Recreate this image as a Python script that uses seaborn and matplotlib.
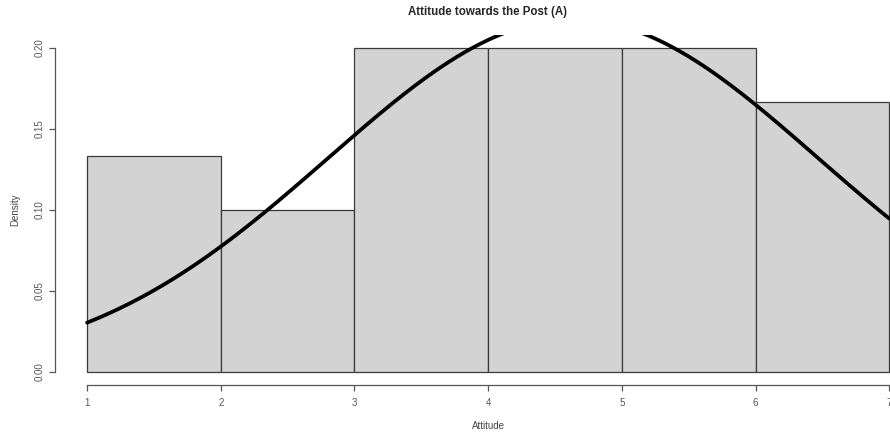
import numpy as np
import pandas as pd
import matplotlib
matplotlib.use("Agg")
import matplotlib.pyplot as plt
import seaborn as sns

# Histogram of attitude scores (bins of width 1 from 1 to 7)
bin_edges = [1, 2, 3, 4, 5, 6, 7]
bin_counts = [4, 3, 6, 6, 6, 5]
# Fitted normal curve parameters
curve_mean = 4.635
curve_sd = 1.833

title = "Attitude towards the Post (A)"
x_label = "Attitude"
y_label = "Density"
x_ticks = [1, 2, 3, 4, 5, 6, 7]
y_ticks = [0.00, 0.05, 0.10, 0.15, 0.20]
y_tick_labels = ["0.00", "0.05", "0.10", "0.15", "0.20"]

sns.set_style("white")
plt.rcParams["font.family"] = ["Liberation Sans", "DejaVu Sans"]

centers = [(a + b) / 2 for a, b in zip(bin_edges[:-1], bin_edges[1:])]
hist_df = pd.DataFrame({"Attitude": centers, "n": bin_counts})

xs = np.linspace(bin_edges[0], bin_edges[-1], 300)
curve_df = pd.DataFrame({
    "Attitude": xs,
    "Density": np.exp(-(xs - curve_mean) ** 2 / (2 * curve_sd ** 2)) / (curve_sd * np.sqrt(2 * np.pi)),
})

fig = plt.figure(figsize=(8.9, 4.34), dpi=100)
W, H = 890, 434
left_px, right_px, bottom_px, top_px = 55, 921.4, 385, 35
ax = fig.add_axes([left_px / W, 1 - bottom_px / H, (right_px - left_px) / W, (bottom_px - top_px) / H])

sns.histplot(data=hist_df, x="Attitude", weights="n", bins=bin_edges, stat="density",
             color="#d3d3d3", edgecolor="#3a3a3a", linewidth=0.9, alpha=1, ax=ax)
sns.lineplot(data=curve_df, x="Attitude", y="Density", color="black", linewidth=2.7, ax=ax)

ax.set_xlim(0.76, 7.24)
ax.set_ylim(-0.008, 0.208)

for s in ["top", "right"]:
    ax.spines[s].set_visible(False)
ax.spines["left"].set_bounds(0, 0.2)
ax.spines["bottom"].set_bounds(1, 7)
for s in ["left", "bottom"]:
    ax.spines[s].set_color("#555555")
    ax.spines[s].set_linewidth(0.9)

ax.set_xticks(x_ticks)
ax.set_xticklabels([str(t) for t in x_ticks])
ax.set_yticks(y_ticks)
ax.set_yticklabels(y_tick_labels, rotation=90, va="center")
ax.tick_params(axis="both", direction="out", length=4.5, width=0.9, color="#555555",
               labelcolor="#555555", labelsize=7, left=True, bottom=True)
ax.tick_params(axis="x", pad=5)
ax.tick_params(axis="y", pad=3)

ax.set_xlabel("")
ax.set_ylabel("")
fig.text(488 / W, 1 - 426 / H, x_label, ha="center", va="center", fontsize=7, color="#444444")
fig.text(15 / W, 1 - 210 / H, y_label, ha="center", va="center", rotation=90, fontsize=7, color="#444444")
fig.text(488 / W, 1 - 12 / H, title, ha="center", va="center", fontsize=8.3, fontweight="bold")

fig.savefig("out.png", dpi=100)
